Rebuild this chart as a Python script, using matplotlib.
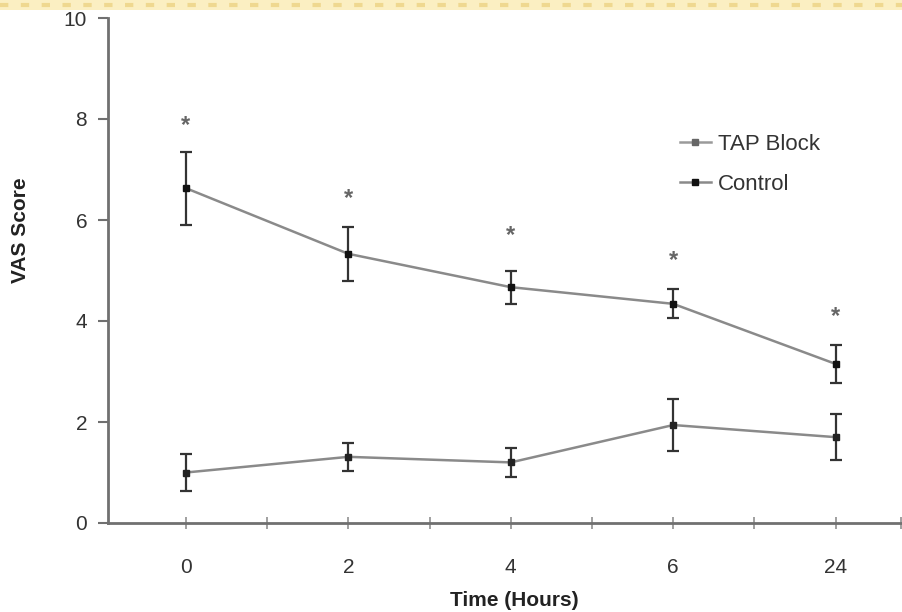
import numpy as np
import matplotlib
matplotlib.use("Agg")
from matplotlib import pyplot as plt
from matplotlib.patches import Rectangle
from matplotlib.lines import Line2D

# datos
horas = ["0", "2", "4", "6", "24"]
control = [6.63, 5.33, 4.67, 4.34, 3.15]
control_err = [0.72, 0.53, 0.33, 0.29, 0.38]
tap = [1.00, 1.31, 1.20, 1.94, 1.70]
tap_err = [0.37, 0.28, 0.29, 0.51, 0.45]
estrellas = [7.88, 6.42, 5.70, 5.19, 4.08]

plt.rcParams['font.family'] = ['Liberation Sans', 'DejaVu Sans']

fig = plt.figure(figsize=(9.03, 6.12), dpi=100)
ax = fig.add_axes([108/903, 89/612, 795/903, 505/612])

# banda amarilla de arriba
fig.patches.append(Rectangle((0, 1 - 10/612), 1, 10/612, transform=fig.transFigure,
                             facecolor='#fbefc2', edgecolor='none', zorder=0))
fig.add_artist(Line2D([0, 1], [1 - 5/612, 1 - 5/612], transform=fig.transFigure,
                      color='#efd890', lw=3, ls=(0, (2, 3))))

x = np.arange(len(horas))

ax.errorbar(x, tap, yerr=tap_err, color='#8a8a8a', lw=1.8, marker='s', ms=4,
            mfc='#222222', mec='#222222', ecolor='#333333', elinewidth=1.6,
            capsize=4, capthick=1.6)
ax.errorbar(x, control, yerr=control_err, color='#8a8a8a', lw=1.8, marker='s', ms=5,
            mfc='#111111', mec='#111111', ecolor='#333333', elinewidth=1.6,
            capsize=4, capthick=1.6)

#asteriscos de significancia
for xi, yi in zip(x, estrellas):
    ax.text(xi, yi, '*', ha='center', va='center', fontsize=17, fontweight='bold',
            color='#666666')

ax.set_xlim(-0.48, 4.415)
ax.set_ylim(0, 10)
ax.set_xticks(x)
ax.set_xticklabels(horas)
ax.set_xticks([0.5, 1.5, 2.5, 3.5, 4.4], minor=True)
ax.set_yticks([0, 2, 4, 6, 8, 10])

for s in ['top', 'right']:
    ax.spines[s].set_visible(False)
for s in ['left', 'bottom']:
    ax.spines[s].set_color('#707070')
    ax.spines[s].set_linewidth(2)

ax.tick_params(axis='y', direction='out', length=7, width=1.5, color='#707070',
               labelsize=15, labelcolor='#333333', pad=8)
ax.tick_params(axis='x', which='both', direction='inout', length=8, width=1.2,
               color='#909090', labelsize=15, labelcolor='#333333', pad=21)

ax.set_ylabel('VAS Score', fontsize=15, fontweight='bold', color='#222222')
ax.yaxis.set_label_coords(-0.098, 0.58)
ax.set_xlabel('Time (Hours)', fontsize=15, fontweight='bold', color='#222222')
ax.xaxis.set_label_coords(0.511, -0.135)

h_tap = Line2D([], [], color='#9a9a9a', lw=1.8, marker='s', ms=4,
               mfc='#666666', mec='#666666')
h_ctl = Line2D([], [], color='#8a8a8a', lw=1.8, marker='s', ms=5,
               mfc='#111111', mec='#111111')
ax.legend([h_tap, h_ctl], ['TAP Block', 'Control'], loc='upper left',
          bbox_to_anchor=(0.694, 0.81), frameon=False, fontsize=16,
          handlelength=1.4, handletextpad=0.3, labelspacing=0.85,
          labelcolor='#333333')

fig.savefig('out.png', dpi=100)
